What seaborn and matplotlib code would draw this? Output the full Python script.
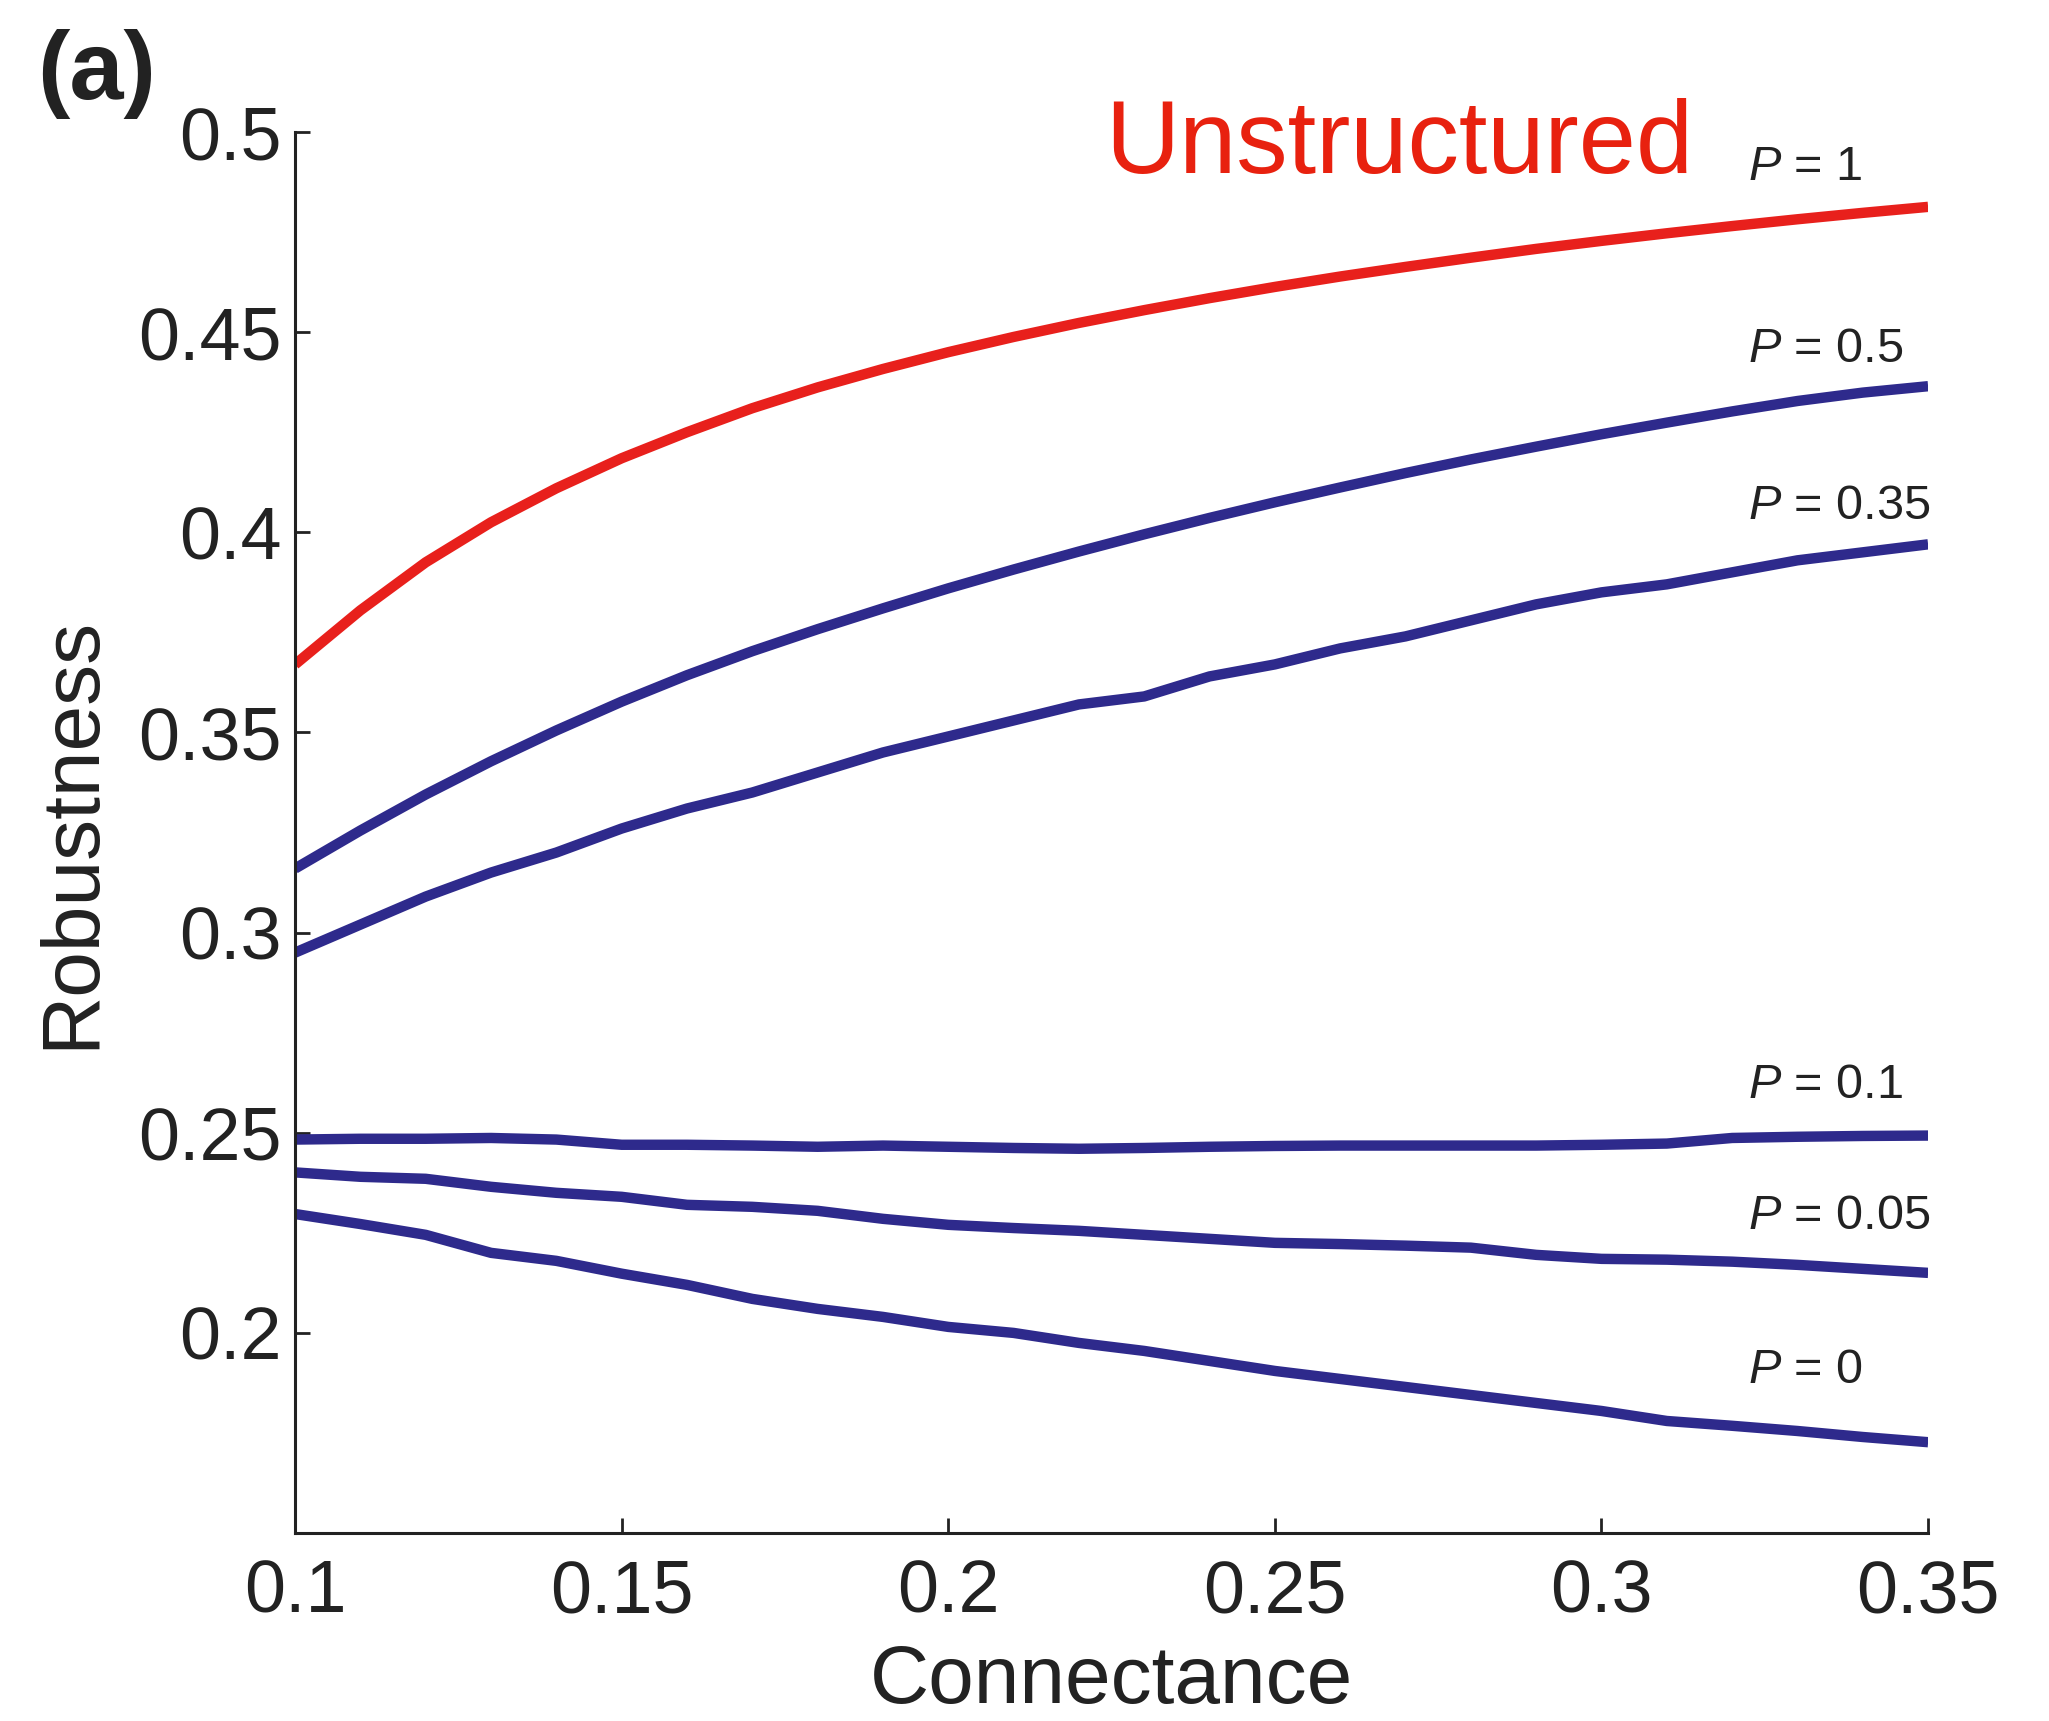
import numpy as np
import pandas as pd
import matplotlib
matplotlib.use("Agg")
import matplotlib.pyplot as plt
import seaborn as sns

# Connectance values (x axis)
connectance = [0.10, 0.11, 0.12, 0.13, 0.14, 0.15, 0.16, 0.17, 0.18, 0.19,
               0.20, 0.21, 0.22, 0.23, 0.24, 0.25, 0.26, 0.27, 0.28, 0.29,
               0.30, 0.31, 0.32, 0.33, 0.34, 0.35]

# Robustness for each structure parameter P
rob_p1 = [0.3670, 0.3805, 0.3925, 0.4025, 0.4110, 0.4185, 0.4250, 0.4310, 0.4362, 0.4408,
          0.4450, 0.4488, 0.4523, 0.4555, 0.4585, 0.4613, 0.4639, 0.4663, 0.4686, 0.4708,
          0.4728, 0.4747, 0.4765, 0.4782, 0.4798, 0.4813]
rob_p05 = [0.3160, 0.3255, 0.3345, 0.3428, 0.3505, 0.3577, 0.3643, 0.3703, 0.3758, 0.3810,
           0.3860, 0.3907, 0.3952, 0.3995, 0.4036, 0.4075, 0.4112, 0.4148, 0.4182, 0.4214,
           0.4245, 0.4274, 0.4302, 0.4328, 0.4349, 0.4365]
rob_p035 = [0.295, 0.302, 0.309, 0.315, 0.320, 0.326, 0.331, 0.335, 0.340, 0.345,
            0.349, 0.353, 0.357, 0.359, 0.364, 0.367, 0.371, 0.374, 0.378, 0.382,
            0.385, 0.387, 0.390, 0.393, 0.395, 0.397]
rob_p01 = [0.2483, 0.2485, 0.2485, 0.2487, 0.2483, 0.2470, 0.2470, 0.2468, 0.2465, 0.2468,
           0.2465, 0.2462, 0.2460, 0.2462, 0.2465, 0.2467, 0.2468, 0.2468, 0.2468, 0.2468,
           0.2470, 0.2473, 0.2487, 0.2490, 0.2492, 0.2493]
rob_p005 = [0.2401, 0.2390, 0.2385, 0.2365, 0.2350, 0.2340, 0.2320, 0.2315, 0.2305, 0.2285,
            0.2270, 0.2262, 0.2255, 0.2245, 0.2235, 0.2225, 0.2222, 0.2218, 0.2213, 0.2195,
            0.2185, 0.2183, 0.2178, 0.2170, 0.2160, 0.2150]
rob_p0 = [0.2297, 0.2272, 0.2245, 0.2200, 0.2180, 0.2148, 0.2120, 0.2085, 0.2060, 0.2040,
          0.2015, 0.2000, 0.1975, 0.1955, 0.1930, 0.1905, 0.1885, 0.1865, 0.1845, 0.1825,
          0.1805, 0.1780, 0.1768, 0.1755, 0.1740, 0.1727]

series_names = ["P = 1", "P = 0.5", "P = 0.35", "P = 0.1", "P = 0.05", "P = 0"]
series_values = [rob_p1, rob_p05, rob_p035, rob_p01, rob_p005, rob_p0]
label_texts = ["$P$ = 1", "$P$ = 0.5", "$P$ = 0.35", "$P$ = 0.1", "$P$ = 0.05", "$P$ = 0"]
label_y = [0.4912, 0.4456, 0.4064, 0.2617, 0.2291, 0.1906]

x_ticks = [0.1, 0.15, 0.2, 0.25, 0.3, 0.35]
x_tick_labels = ["0.1", "0.15", "0.2", "0.25", "0.3", "0.35"]
y_ticks = [0.2, 0.25, 0.3, 0.35, 0.4, 0.45, 0.5]
y_tick_labels = ["0.2", "0.25", "0.3", "0.35", "0.4", "0.45", "0.5"]

RED = "#E8201C"
NAVY = "#2E2A8C"
palette = {name: (RED if name == "P = 1" else NAVY) for name in series_names}

df = pd.DataFrame({
    "Connectance": np.tile(connectance, len(series_names)),
    "Robustness": np.concatenate(series_values),
    "series": np.repeat(series_names, len(connectance)),
})

sns.set_theme(style="ticks")
plt.rcParams["font.family"] = ["Liberation Sans", "DejaVu Sans"]
plt.rcParams["mathtext.fontset"] = "custom"
plt.rcParams["mathtext.rm"] = "Liberation Sans"
plt.rcParams["mathtext.it"] = "Liberation Sans:italic"

fig = plt.figure(figsize=(20.49, 17.21), dpi=100)
ax = fig.add_axes([0.144, 0.1092, 0.797, 0.8141])

sns.lineplot(data=df, x="Connectance", y="Robustness", hue="series",
             palette=palette, hue_order=series_names, linewidth=7.5,
             legend=False, ax=ax)
for line in ax.get_lines():
    line.set_solid_joinstyle("round")
    line.set_solid_capstyle("butt")

ax.set_xlim(0.1, 0.35)
ax.set_ylim(0.15, 0.5)
ax.set_xticks(x_ticks)
ax.set_xticklabels(x_tick_labels)
ax.set_yticks(y_ticks)
ax.set_yticklabels(y_tick_labels)
ax.tick_params(direction="in", length=11, width=2, labelsize=53,
               colors="#222222")
ax.tick_params(axis="y", pad=10)
ax.tick_params(axis="x", pad=18)
for side in ["top", "right"]:
    ax.spines[side].set_visible(False)
for side in ["left", "bottom"]:
    ax.spines[side].set_linewidth(2.2)
    ax.spines[side].set_color("#222222")

ax.set_xlabel("Connectance", fontsize=59, color="#222222", labelpad=12)
ax.set_ylabel("Robustness", fontsize=59, color="#222222", labelpad=20)

for text, yv in zip(label_texts, label_y):
    ax.text(0.3224, yv, text, fontsize=35, color="#222222", va="center", ha="left")

ax.text(0.2240, 0.4965, "Unstructured", fontsize=74, color="#E8210F",
        va="center", ha="left")

fig.text(0.018, 0.957, "(a)", fontsize=70, fontweight="bold", color="#222222",
         va="center", ha="left")

fig.savefig("out.png", dpi=100, facecolor="white")
